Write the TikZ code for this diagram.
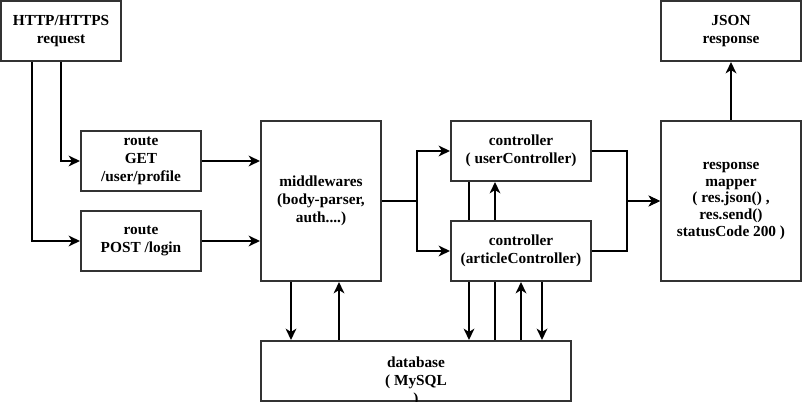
\documentclass[tikz,border=0pt]{standalone}
\usepackage{fontspec}
\setmainfont{Liberation Serif}
\usepackage{tikz}
\usetikzlibrary{arrows.meta,calc,positioning}
\definecolor{boxgray}{RGB}{51,51,51}

\begin{document}
\begin{tikzpicture}[x=0.75pt,y=-0.75pt,
  blk/.style={draw=boxgray,line width=1.5pt,fill=white,align=center,inner sep=1pt,
    font=\bfseries\fontsize{11.5}{13.5}\selectfont},
  sz/.style 2 args={minimum width=#1*0.75pt,minimum height=#2*0.75pt},
  arr/.style={-{Stealth[length=8.5pt,width=8pt,inset=2.5pt]},line width=1.5pt},
  wire/.style={line width=1.5pt}]
	\clip (0,0) rectangle (802,402);
	\useasboundingbox (0,0) rectangle (802,402);
	% boxes
	\node[blk,sz={120}{60}] (http) at (61,31) {HTTP/HTTPS\\request};
	\node[blk,sz={120}{60}] (get) at (141,161) {route\\GET\\/user/profile};
	\node[blk,sz={120}{60}] (post) at (141,241) {route\\POST /login};
	\node[blk,sz={120}{160}] (mid) at (321,201) {middlewares\\(body-parser,\\auth....)};
	\node[blk,sz={140}{60}] (usr) at (521,151) {controller\\( userController)};
	\node[blk,sz={140}{60}] (art) at (521,251) {controller\\(articleController)};
	\node[blk,sz={140}{160},font=\bfseries\fontsize{11.5}{12.5}\selectfont] (map) at (731,201) {response\\mapper\\( res.json() ,\\res.send()\\statusCode 200 )};
	\node[blk,sz={140}{60}] (json) at (731,31) {JSON\\response};
	\node[blk,sz={310}{60}] (db) at (416,371) {};
	\node[align=center,font=\bfseries\fontsize{11.5}{13.5}\selectfont] (dbtxt) at (416,382) {database\\( MySQL\\)};
	% request -> routes -> middlewares
	\draw[arr] (http.south) |- (get.west);
	\draw[arr] ($(http.south)+(-29,0)$) |- (post.west);
	\draw[arr] (get.east) -- (get.east -| mid.west);
	\draw[arr] (post.east) -- (post.east -| mid.west);
	% middlewares -> controllers -> mapper
	\draw[arr] (mid.east) -- ++(35,0) |- (usr.west);
	\draw[arr] (mid.east) -- ++(35,0) |- (art.west);
	\draw[arr] (usr.east) -- ++(35,0) |- (map.west);
	\draw[arr] (art.east) -- ++(35,0) |- (map.west);
	\draw[arr] (map.north) -- (json.south);
	% middlewares <-> database
	\coordinate (m1) at ($(mid.south)+(-30,0)$);
	\coordinate (m2) at ($(mid.south)+(18,0)$);
	\draw[arr] (m1) -- (m1 |- db.north);
	\draw[arr] (m2 |- db.north) -- (m2);
	% controllers <-> database
	\coordinate (c1) at ($(usr.south)+(-52,0)$);
	\coordinate (c2) at ($(usr.south)+(-26,0)$);
	\coordinate (c3) at ($(art.south)+(21,0)$);
	\draw[wire] (c1) -- (c1 |- art.north);
	\draw[arr] (c1 |- art.south) -- (c1 |- db.north);
	\draw[wire] (c2 |- db.north) -- (c2 |- art.south);
	\draw[arr] (c2 |- art.north) -- (c2);
	\draw[arr] (art.south |- db.north) -- (art.south);
	\draw[arr] (c3) -- (c3 |- db.north);
\end{tikzpicture}
\end{document}
